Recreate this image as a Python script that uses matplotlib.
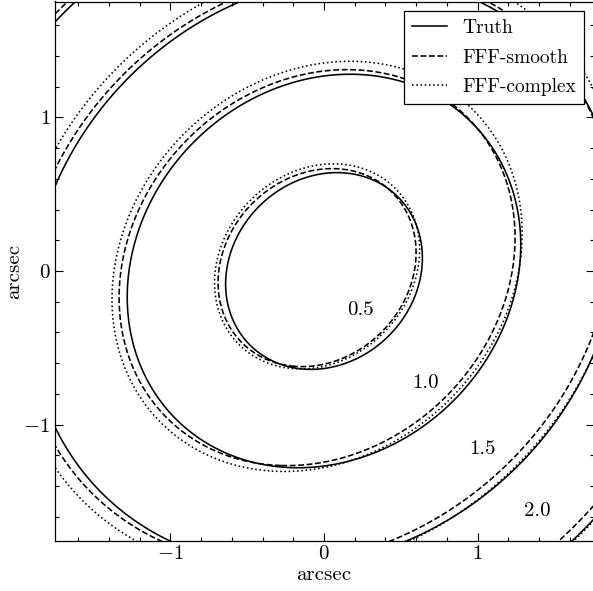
import numpy as np
import matplotlib
matplotlib.use("Agg")
import matplotlib.pyplot as plt
from matplotlib.lines import Line2D
from matplotlib.ticker import MultipleLocator

plt.rcParams["font.family"] = "serif"
plt.rcParams["font.serif"] = ["cmr10"]
plt.rcParams["mathtext.fontset"] = "cm"
plt.rcParams["axes.formatter.use_mathtext"] = True
plt.rcParams["font.size"] = 15

# Elliptical model parameters (arcsec) for each reconstruction
model_names = ["Truth", "FFF-smooth", "FFF-complex"]
model_styles = ["-", "--", ":"]
center_x = [0.0, -0.045, -0.045]
center_y = [0.0, 0.022, 0.030]
major_axis = [1.362, 1.382, 1.437]
minor_axis = [1.192, 1.186, 1.222]
position_angle = [45.0, 45.0, 45.0]

contour_levels = [0.5, 1.0, 1.5, 2.0]
level_text = ["0.5", "1.0", "1.5", "2.0"]
label_x = [0.236, 0.660, 1.034, 1.385]
label_y = [-0.256, -0.729, -1.155, -1.560]

extent = 1.753

fig = plt.figure(figsize=(5.93, 5.91), dpi=100)
ax = fig.add_axes([54.5 / 593, 50.5 / 591, 539 / 593, 539 / 591])

grid = np.linspace(-2.0, 2.0, 801)
X, Y = np.meshgrid(grid, grid)

for cx, cy, a, b, pa, ls in zip(center_x, center_y, major_axis, minor_axis,
                                position_angle, model_styles):
    t = np.deg2rad(pa)
    dx, dy = X - cx, Y - cy
    u = dx * np.cos(t) + dy * np.sin(t)
    v = -dx * np.sin(t) + dy * np.cos(t)
    field = np.sqrt((u / a) ** 2 + (v / b) ** 2)
    ax.contour(X, Y, field, levels=contour_levels, colors="k",
               linestyles=ls, linewidths=1.15)

for x, y, s in zip(label_x, label_y, level_text):
    ax.text(x, y, s, ha="center", va="center")

ax.set_xlim(-extent, extent)
ax.set_ylim(-extent, extent)
ax.xaxis.set_major_locator(MultipleLocator(1))
ax.yaxis.set_major_locator(MultipleLocator(1))
ax.xaxis.set_minor_locator(MultipleLocator(0.2))
ax.yaxis.set_minor_locator(MultipleLocator(0.2))
ax.tick_params(which="both", direction="in", top=True, right=True, width=0.8)
ax.tick_params(which="major", length=5.5, pad=3)
ax.tick_params(which="minor", length=3)
for sp in ax.spines.values():
    sp.set_linewidth(0.9)

ax.set_xlabel("arcsec", labelpad=2.5)
ax.set_ylabel("arcsec", labelpad=0.5)

handles = [Line2D([], [], color="k", ls=ls, lw=1.15) for ls in model_styles]
leg = ax.legend(handles, model_names, loc="upper right", fancybox=False,
                framealpha=1.0, edgecolor="k", handlelength=1.8,
                fontsize=14, labelspacing=0.6)
leg.get_frame().set_linewidth(0.9)

fig.savefig("out.png", dpi=100)
